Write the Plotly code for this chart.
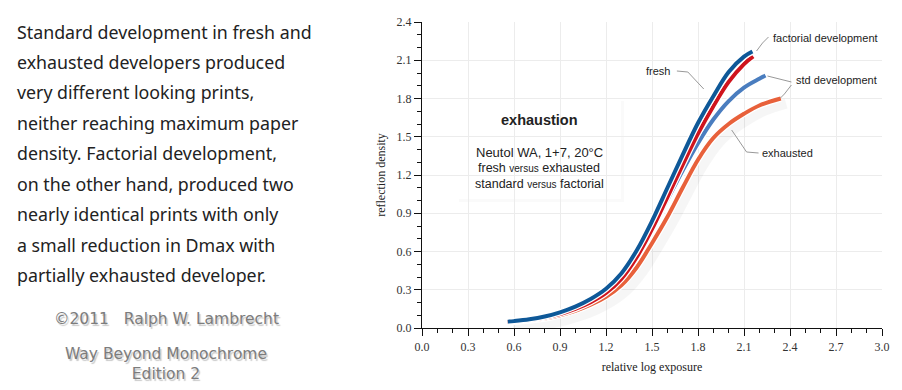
import plotly.graph_objects as go

# ---------------- data ----------------
fact_fresh_x = [0.56, 0.6, 0.7, 0.8, 0.9, 1.0, 1.1, 1.2, 1.3, 1.4, 1.5, 1.6, 1.7, 1.8, 1.9, 2.0, 2.1, 2.155]
fact_fresh_y = [0.05, 0.054, 0.068, 0.09, 0.123, 0.168, 0.228, 0.308, 0.428, 0.608, 0.838, 1.098, 1.358, 1.608, 1.818, 2.008, 2.128, 2.168]

fact_exh_x = [0.56, 0.6, 0.7, 0.8, 0.9, 1.0, 1.1, 1.2, 1.3, 1.4, 1.5, 1.6, 1.7, 1.8, 1.9, 2.0, 2.1, 2.16]
fact_exh_y = [0.048, 0.051, 0.063, 0.082, 0.11, 0.15, 0.203, 0.275, 0.385, 0.555, 0.775, 1.025, 1.28, 1.525, 1.74, 1.93, 2.07, 2.13]

std_fresh_x = [0.56, 0.6, 0.7, 0.8, 0.9, 1.0, 1.1, 1.2, 1.3, 1.4, 1.5, 1.6, 1.7, 1.8, 1.9, 2.0, 2.1, 2.2, 2.24]
std_fresh_y = [0.05, 0.053, 0.065, 0.085, 0.115, 0.157, 0.212, 0.285, 0.395, 0.565, 0.775, 1.005, 1.235, 1.45, 1.635, 1.78, 1.885, 1.955, 1.98]

std_exh_x = [0.56, 0.6, 0.7, 0.8, 0.9, 1.0, 1.1, 1.2, 1.3, 1.4, 1.5, 1.6, 1.7, 1.8, 1.9, 2.0, 2.1, 2.2, 2.34]
std_exh_y = [0.048, 0.05, 0.059, 0.075, 0.10, 0.135, 0.182, 0.245, 0.335, 0.475, 0.665, 0.87, 1.10, 1.32, 1.49, 1.60, 1.68, 1.745, 1.80]

x_ticks = [0.0, 0.3, 0.6, 0.9, 1.2, 1.5, 1.8, 2.1, 2.4, 2.7, 3.0]
y_ticks = [0.0, 0.3, 0.6, 0.9, 1.2, 1.5, 1.8, 2.1, 2.4]

body_lines = [
    "Standard development in fresh and",
    "exhausted developers produced",
    "very different looking prints,",
    "neither reaching maximum paper",
    "density. Factorial development,",
    "on the other hand, produced two",
    "nearly identical prints with only",
    "a small reduction in Dmax with",
    "partially exhausted developer.",
]

# ---------------- geometry helpers (pixel -> paper / data) ----------------
W, H = 902, 390
L, R, T, B = 422, 18, 22, 62
PW, PH = W - L - R, H - T - B


def px(xp):
    return (xp - L) / PW


def py(yp):
    return (H - B - yp) / PH


def dx(xp):
    return (xp - L) / PW * 3.0


def dy(yp):
    return (H - B - yp) / PH * 2.4


fig = go.Figure()

series = [
    (std_exh_x, std_exh_y, "#e8613b", "exhausted std"),
    (std_fresh_x, std_fresh_y, "#4a7dbf", "fresh std"),
    (fact_exh_x, fact_exh_y, "#cf141d", "exhausted factorial"),
    (fact_fresh_x, fact_fresh_y, "#0e5898", "fresh factorial"),
]

# soft shadow
fig.add_trace(go.Scatter(x=[v + 0.035 for v in std_exh_x], y=[v - 0.04 for v in std_exh_y],
                         mode="lines", line=dict(color="rgba(0,0,0,0.035)", width=10, shape="spline"),
                         hoverinfo="skip", showlegend=False))

for xs, ys, col, name in series:
    fig.add_trace(go.Scatter(x=xs, y=ys, mode="lines",
                             line=dict(color="white", width=6.5, shape="spline", smoothing=1.0),
                             hoverinfo="skip", showlegend=False))
    fig.add_trace(go.Scatter(x=xs, y=ys, mode="lines", name=name,
                             line=dict(color=col, width=4, shape="spline", smoothing=1.0),
                             showlegend=False))

tickfont = dict(family="Liberation Serif, serif", size=12, color="#333")

fig.update_xaxes(range=[0, 3.0], tickmode="array", tickvals=x_ticks,
                 ticktext=[f"{v:.1f}" for v in x_ticks],
                 showline=True, linecolor="#111", linewidth=1.2,
                 ticks="outside", ticklen=7, tickcolor="#111", tickwidth=1.2,
                 minor=dict(dtick=0.1, ticks="outside", ticklen=4, tickcolor="#111", showgrid=False),
                 showgrid=True, gridcolor="#ececec", gridwidth=1, zeroline=False,
                 tickfont=tickfont,
                 title=dict(text="relative log exposure", font=dict(family="Liberation Serif, serif", size=12, color="#222"), standoff=10))
fig.update_yaxes(range=[0, 2.4], tickmode="array", tickvals=y_ticks,
                 ticktext=[f"{v:.1f}" for v in y_ticks],
                 showline=True, linecolor="#111", linewidth=1.2,
                 ticks="outside", ticklen=7, tickcolor="#111", tickwidth=1.2,
                 minor=dict(dtick=0.1, ticks="outside", ticklen=4, tickcolor="#111", showgrid=False),
                 showgrid=True, gridcolor="#ececec", gridwidth=1, zeroline=False,
                 tickfont=tickfont,
                 title=dict(text="reflection density", font=dict(family="Liberation Serif, serif", size=12, color="#222"), standoff=8))

ann = []
# left body text
baselines = [38, 68.5, 99, 129, 159.5, 190, 220.5, 251, 281]
for line, bl in zip(body_lines, baselines):
    ann.append(dict(text=line, xref="paper", yref="paper", x=px(13), y=py(bl - 6.5),
                    xanchor="left", yanchor="middle", showarrow=False,
                    font=dict(family="Noto Sans, sans-serif", size=17.8, color="#222")))

# copyright block (embossed look via text shadow)
credit_font = dict(family="DejaVu Sans, sans-serif", size=15.5, color="#7c7c7c",
                   shadow="1.5px 1.5px 1px #c8c8c8")
ann.append(dict(text="\u00a92011   Ralph W. Lambrecht", xref="paper", yref="paper", x=px(165), y=py(319),
                xanchor="center", yanchor="middle", showarrow=False, font=credit_font))
ann.append(dict(text="Way Beyond Monochrome<br>Edition 2", xref="paper", yref="paper", x=px(165), y=py(363.5),
                xanchor="center", yanchor="middle", align="center", showarrow=False, font=credit_font))

# info box text
sans = "Liberation Sans, Arial, sans-serif"
ann.append(dict(text="<b>exhaustion</b>", xref="paper", yref="paper", x=px(540), y=py(120),
                xanchor="center", yanchor="middle", showarrow=False,
                font=dict(family=sans, size=14.5, color="#222")))
ann.append(dict(text="Neutol WA, 1+7, 20\u00b0C", xref="paper", yref="paper", x=px(540), y=py(152),
                xanchor="center", yanchor="middle", showarrow=False,
                font=dict(family=sans, size=13, color="#222")))
ann.append(dict(text="fresh <span style='font-size:10px'>versus</span> exhausted", xref="paper", yref="paper",
                x=px(540), y=py(168), xanchor="center", yanchor="middle", showarrow=False,
                font=dict(family=sans, size=12.5, color="#222")))
ann.append(dict(text="standard <span style='font-size:10px'>versus</span> factorial", xref="paper", yref="paper",
                x=px(540), y=py(184), xanchor="center", yanchor="middle", showarrow=False,
                font=dict(family=sans, size=12.5, color="#222")))

# curve labels
labfont = dict(family=sans, size=11, color="#222")
ann.append(dict(text="factorial development", x=dx(773), y=dy(38), xanchor="left", yanchor="middle",
                showarrow=False, font=labfont))
ann.append(dict(text="fresh", x=dx(673), y=dy(71), xanchor="right", yanchor="middle",
                showarrow=False, font=labfont))
ann.append(dict(text="std development", x=dx(796), y=dy(80), xanchor="left", yanchor="middle",
                showarrow=False, font=labfont))
ann.append(dict(text="exhausted", x=dx(761), y=dy(153), xanchor="left", yanchor="middle",
                showarrow=False, font=labfont))

shapes = []
# info box
shapes.append(dict(type="rect", xref="paper", yref="paper", x0=px(459), x1=px(625), y0=py(202), y1=py(101),
                   fillcolor="rgba(0,0,0,0.02)", line=dict(width=0), layer="between"))
shapes.append(dict(type="rect", xref="paper", yref="paper", x0=px(457), x1=px(622), y0=py(199), y1=py(99),
                   fillcolor="white", line=dict(width=0), layer="between"))


def leader(pts):
    p = "M " + " L ".join(f"{dx(a):.4f},{dy(b):.4f}" for a, b in pts)
    return dict(type="path", path=p, xref="x", yref="y", line=dict(color="#999", width=1), layer="above")


shapes.append(leader([(770, 37), (764, 43), (758, 51)]))
shapes.append(leader([(678, 71), (689, 72), (705, 89)]))
shapes.append(leader([(793, 82), (769, 76)]))
shapes.append(leader([(793, 85), (786, 94), (782, 98)]))
shapes.append(leader([(760, 153), (748, 152), (733, 130)]))

fig.update_layout(width=W, height=H, margin=dict(l=L, r=R, t=T, b=B, pad=0),
                  paper_bgcolor="white", plot_bgcolor="white",
                  annotations=ann, shapes=shapes, showlegend=False)

fig.write_html("out.html", config={"displayModeBar": False},
               post_script="document.body.style.margin='0';")
